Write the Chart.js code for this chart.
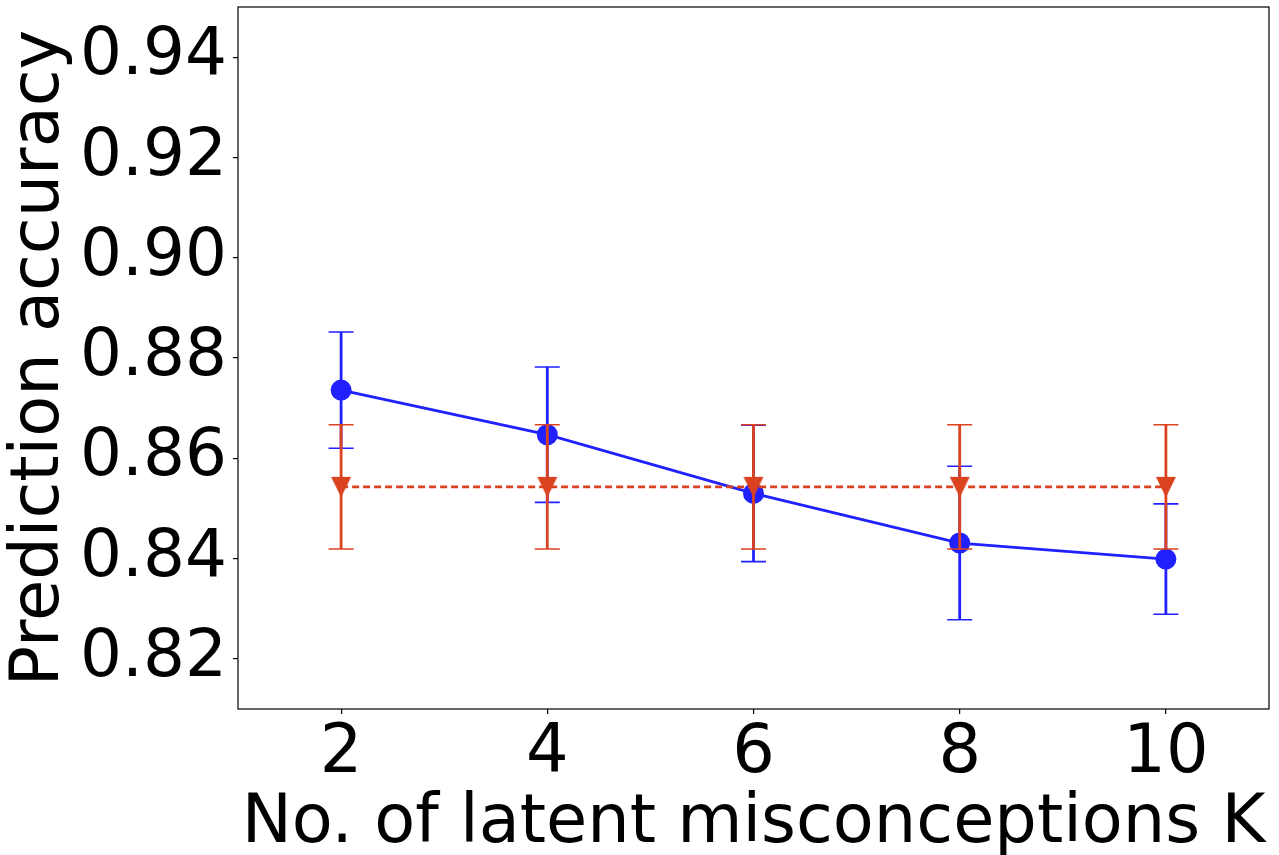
<!DOCTYPE html>
<html>
<head>
<meta charset="utf-8">
<script src="https://cdn.jsdelivr.net/npm/chart.js@4.4.0/dist/chart.umd.min.js"></script>
<style>
html,body{margin:0;padding:0;background:#fff;}
#wrap{width:1279px;height:855px;position:relative;}
</style>
</head>
<body>
<div id="wrap"><canvas id="c" width="1279" height="855"></canvas></div>
<script>
const K = [2, 4, 6, 8, 10];
const xTicks = [2, 4, 6, 8, 10];
const yTicks = [0.82, 0.84, 0.86, 0.88, 0.90, 0.92, 0.94];
const blueMean = [0.8736, 0.8647, 0.8530, 0.8431, 0.8399];
const blueErr  = [0.0116, 0.0135, 0.0136, 0.0153, 0.0110];
const redMean  = [0.8543, 0.8543, 0.8543, 0.8543, 0.8543];
const redErr   = [0.0124, 0.0124, 0.0124, 0.0124, 0.0124];

const BLUE = '#2121ff';
const RED = '#db4220';
const FONT = 'DejaVu Sans';
const AREA = { left: 238, right: 1269, top: 7, bottom: 709 };

// downward triangle marker (matplotlib 'v'), centred on its box
const tri = document.createElement('canvas');
tri.width = 22; tri.height = 22;
(function () {
  const c = tri.getContext('2d');
  c.fillStyle = RED;
  c.beginPath();
  c.moveTo(1, 1); c.lineTo(21, 1); c.lineTo(11, 21.5); c.closePath();
  c.fill();
})();

const fixArea = {
  id: 'fixArea',
  afterLayout(chart) {
    const ca = chart.chartArea;
    Object.assign(ca, AREA);
    ca.width = AREA.right - AREA.left; ca.height = AREA.bottom - AREA.top;
    const y = chart.scales.y, x = chart.scales.x;
    y.top = AREA.top; y.bottom = AREA.bottom; y.height = ca.height;
    y.right = AREA.left; y.left = 0; y.width = AREA.left;
    x.left = AREA.left; x.right = AREA.right; x.width = ca.width;
    x.top = AREA.bottom; x.bottom = 855; x.height = 855 - AREA.bottom;
    y.configure(); x.configure();
    y._labelItems = null; x._labelItems = null; y._gridLineItems = null; x._gridLineItems = null;
  }
};

const errorBars = {
  id: 'errorBars',
  beforeDatasetDraw(chart, args) {
    const ds = chart.data.datasets[args.index];
    if (!ds.errMean) return;
    const ctx = chart.ctx, xs = chart.scales.x, ys = chart.scales.y;
    ctx.save();
    ctx.strokeStyle = ds.borderColor;
    for (let i = 0; i < K.length; i++) {
      const x = xs.getPixelForValue(K[i]);
      const yt = ys.getPixelForValue(ds.errMean[i] + ds.errVal[i]);
      const yb = ys.getPixelForValue(ds.errMean[i] - ds.errVal[i]);
      ctx.lineWidth = 2.8;
      ctx.beginPath(); ctx.moveTo(x, yt); ctx.lineTo(x, yb); ctx.stroke();
      ctx.lineWidth = 1.6;
      ctx.beginPath();
      ctx.moveTo(x - 12.5, yt); ctx.lineTo(x + 12.5, yt);
      ctx.moveTo(x - 12.5, yb); ctx.lineTo(x + 12.5, yb);
      ctx.stroke();
    }
    ctx.restore();
  }
};

const frame = {
  id: 'frame',
  afterDraw(chart) {
    const a = chart.chartArea, ctx = chart.ctx;
    ctx.save();
    ctx.strokeStyle = '#000';
    ctx.lineWidth = 1.2;
    ctx.strokeRect(a.left, a.top, a.right - a.left, a.bottom - a.top);
    ctx.restore();
  }
};

new Chart(document.getElementById('c'), {
  type: 'scatter',
  data: {
    datasets: [
      {
        label: 'red',
        data: K.map((k, i) => ({x: k, y: redMean[i]})),
        errMean: redMean, errVal: redErr,
        showLine: true,
        borderColor: RED, backgroundColor: RED,
        borderWidth: 2.8, borderDash: [7, 4],
        pointStyle: tri,
        pointRadius: 11, pointHoverRadius: 11, pointBorderWidth: 0,
        order: 0
      },
      {
        label: 'blue',
        data: K.map((k, i) => ({x: k, y: blueMean[i]})),
        errMean: blueMean, errVal: blueErr,
        showLine: true,
        borderColor: BLUE, backgroundColor: BLUE,
        borderWidth: 2.8,
        pointStyle: 'circle',
        pointRadius: 10.5, pointHoverRadius: 10.5, pointBorderWidth: 0,
        order: 1
      }
    ]
  },
  options: {
    responsive: false,
    animation: false,
    devicePixelRatio: 1,
    layout: { padding: { top: 7, right: 10, left: 0, bottom: 0 } },
    plugins: { legend: { display: false }, tooltip: { enabled: false } },
    scales: {
      x: {
        type: 'linear', min: 1, max: 11,
        afterFit(s) { s.height = 146; s.paddingLeft = 0; s.paddingRight = 0; },
        afterBuildTicks(s) { s.ticks = xTicks.map(v => ({value: v})); },
        border: { display: false },
        grid: { drawOnChartArea: false, drawTicks: true, tickLength: 5, color: '#000', lineWidth: 1.2 },
        ticks: { color: '#000', font: { family: FONT, size: 67 }, padding: 0, maxRotation: 0, autoSkip: false,
                 callback: v => String(v) },
        title: { display: true, text: 'No. of latent misconceptions K', color: '#000',
                 font: { family: FONT, size: 67 }, padding: { top: 0, bottom: -10 } }
      },
      y: {
        type: 'linear', min: 0.81, max: 0.95,
        afterFit(s) { s.width = 238; s.paddingTop = 0; s.paddingBottom = 0; },
        afterBuildTicks(s) { s.ticks = yTicks.map(v => ({value: v})); },
        border: { display: false },
        grid: { drawOnChartArea: false, drawTicks: true, tickLength: 5, color: '#000', lineWidth: 1.2 },
        ticks: { color: '#000', font: { family: FONT, size: 66 }, padding: 6, autoSkip: false,
                 callback: v => v.toFixed(2) },
        title: { display: true, text: 'Prediction accuracy', color: '#000',
                 font: { family: FONT, size: 67 }, padding: { top: 0, bottom: 0 } }
      }
    }
  },
  plugins: [fixArea, errorBars, frame]
});
</script>
</body>
</html>
